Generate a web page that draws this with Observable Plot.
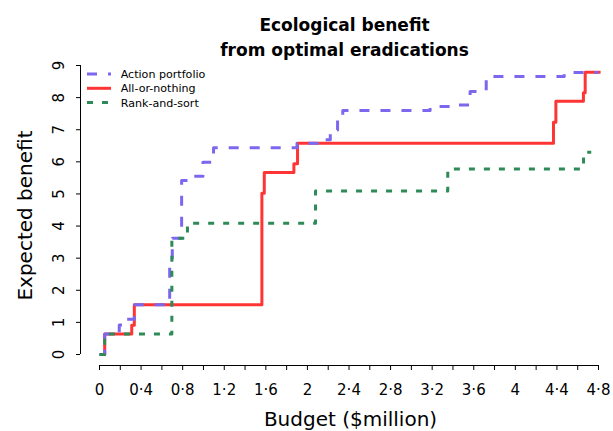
<!DOCTYPE html>
<html><head><meta charset="utf-8">
<script src="https://cdn.jsdelivr.net/npm/d3@7"></script>
<script src="https://cdn.jsdelivr.net/npm/@observablehq/plot@0.6"></script>
<style>
body{margin:0;background:#fff;}
#wrap{position:relative;width:613px;height:431px;font-family:"DejaVu Sans",sans-serif;}
#legend{position:absolute;left:0;top:0;}
</style></head><body><div id="wrap"></div>
<script>
const titleLines = ["Ecological benefit", "from optimal eradications"];
const xAxisTitle = "Budget ($million)";
const yAxisTitle = "Expected benefit";
const seriesNames = ["Action portfolio", "All-or-nothing", "Rank-and-sort"];
const seriesColors = ["#7b68ee", "#ff3535", "#2e8b57"];
const seriesDashes = ["10,11", null, "6,9"];

// Action portfolio (step function: budget, benefit)
const portfolioBudget  = [0, 0.05, 0.19, 0.26, 0.335, 0.675, 0.70, 0.79, 0.86, 0.995, 1.097, 1.90, 2.10, 2.22, 2.29, 2.34, 3.18, 3.38, 3.565, 3.72, 4.47, 4.80];
const portfolioBenefit = [0, 0.64, 0.92, 1.10, 1.55, 3.00, 3.62, 5.42, 5.55, 5.99, 6.44, 6.58, 6.69, 6.99, 7.30, 7.60, 7.72, 7.77, 8.19, 8.66, 8.78, 8.78];
// All-or-nothing
const allBudget  = [0, 0.05, 0.31, 0.335, 1.562, 1.585, 1.87, 1.905, 4.367, 4.39, 4.655, 4.672, 4.82];
const allBenefit = [0, 0.64, 0.91, 1.55, 5.02, 5.67, 5.94, 6.58, 7.23, 7.89, 8.15, 8.79, 8.79];
// Rank-and-sort
const rankBudget  = [0, 0.05, 0.696, 0.846, 2.078, 3.35, 4.656, 4.73];
const rankBenefit = [0, 0.64, 3.62, 4.09, 5.09, 5.78, 6.30, 6.30];

const xTickValues = [0, 0.2, 0.4, 0.6, 0.8, 1.0, 1.2, 1.4, 1.6, 1.8, 2.0, 2.2, 2.4, 2.6, 2.8, 3.0, 3.2, 3.4, 3.6, 3.8, 4.0, 4.2, 4.4, 4.6, 4.8];
const xLabelValues = [0, 0.4, 0.8, 1.2, 1.6, 2.0, 2.4, 2.8, 3.2, 3.6, 4.0, 4.4, 4.8];
const xTickLabels = ["0", "0·4", "0·8", "1·2", "1·6", "2", "2·4", "2·8", "3·2", "3·6", "4", "4·4", "4·8"];
const yTickValues = [0, 1, 2, 3, 4, 5, 6, 7, 8, 9];
const yTickLabels = ["0", "1", "2", "3", "4", "5", "6", "7", "8", "9"];

const rows = (xs, ys) => xs.map((x, i) => ({budget: x, benefit: ys[i]}));
const portfolio = rows(portfolioBudget, portfolioBenefit);
const allOrNothing = rows(allBudget, allBenefit);
const rankSort = rows(rankBudget, rankBenefit);

const insetL = 19, insetB = 11;
const lineOpts = {x: "budget", y: "benefit", curve: "step-after", strokeWidth: 3, strokeLinecap: "butt", strokeLinejoin: "round"};
const mid = {textAnchor: "middle", lineAnchor: "middle", fill: "#000"};

const chart = Plot.plot({
  width: 613, height: 431,
  marginLeft: 80, marginRight: 15, marginTop: 65, marginBottom: 66,
  x: {domain: [0, 4.8], insetLeft: insetL},
  y: {domain: [0, 9], insetBottom: insetB},
  style: {fontFamily: "DejaVu Sans", fontSize: "15px", background: "#fff", color: "#000", overflow: "visible"},
  marks: [
    Plot.ruleX([0], {y1: yTickValues[0], y2: yTickValues[yTickValues.length - 1], dx: -insetL, stroke: "#000"}),
    Plot.ruleY([0], {x1: xTickValues[0], x2: xTickValues[xTickValues.length - 1], dy: insetB, stroke: "#000"}),
    Plot.axisX(xTickValues, {tickSize: 5, fill: "none", stroke: "#000", label: null}),
    Plot.axisY(yTickValues, {tickSize: 4, fill: "none", stroke: "#000", label: null}),
    Plot.text(xLabelValues, {...mid, x: d => d, text: (d, i) => xTickLabels[i], frameAnchor: "bottom", dy: 24.9, fontSize: 15}),
    Plot.text(yTickValues, {...mid, y: d => d, text: (d, i) => yTickLabels[i], frameAnchor: "left", rotate: -90, dx: -21.5, fontSize: 15}),
    Plot.text([xAxisTitle], {...mid, text: d => d, frameAnchor: "bottom", dx: 11, dy: 53.8, fontSize: 20}),
    Plot.text([yAxisTitle], {...mid, text: d => d, frameAnchor: "left", rotate: -90, dx: -54.7, fontSize: 20}),
    Plot.text([titleLines[0]], {...mid, text: d => d, frameAnchor: "top", dx: 5, dy: -39.7, fontSize: 17, fontWeight: "bold"}),
    Plot.text([titleLines[1]], {...mid, text: d => d, frameAnchor: "top", dx: 5, dy: -15.2, fontSize: 17, fontWeight: "bold"}),
    Plot.line(allOrNothing, {...lineOpts, stroke: seriesColors[1]}),
    Plot.line(portfolio, {...lineOpts, stroke: seriesColors[0], strokeDasharray: seriesDashes[0]}),
    Plot.line(rankSort, {...lineOpts, stroke: seriesColors[2], strokeDasharray: seriesDashes[2]})
  ]
});
const wrap = document.getElementById("wrap");
wrap.appendChild(chart);

// Legend overlay
const leg = d3.select(wrap).append("svg").attr("id", "legend").attr("width", 613).attr("height", 431);
const legY0 = 74, legStep = 14.3;
seriesNames.forEach((name, i) => {
  const y = legY0 + i * legStep;
  const ln = leg.append("line").attr("x1", 87).attr("x2", 111).attr("y1", y).attr("y2", y)
    .attr("stroke", seriesColors[i]).attr("stroke-width", 3).attr("stroke-linecap", "butt");
  if (seriesDashes[i]) ln.attr("stroke-dasharray", seriesDashes[i]);
  leg.append("text").attr("x", 120.7).attr("y", y + 4).attr("font-family", "DejaVu Sans")
    .attr("font-size", 11.1).attr("fill", "#000").text(name);
});
</script></body></html>
